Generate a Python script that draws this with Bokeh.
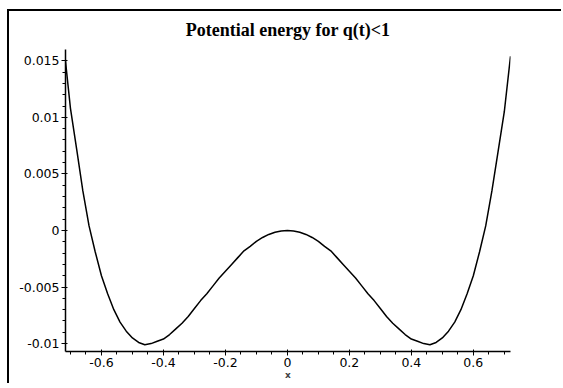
from bokeh.plotting import figure
from bokeh.models import FixedTicker, Range1d
from bokeh.embed import file_html
from bokeh.resources import INLINE

# Potential energy curve V(x), sampled every 0.02
xs = [-0.72, -0.70, -0.68, -0.66, -0.64, -0.62, -0.60, -0.58, -0.56, -0.54,
      -0.52, -0.50, -0.48, -0.46, -0.44, -0.42, -0.40, -0.38, -0.36, -0.34,
      -0.32, -0.30, -0.28, -0.26, -0.24, -0.22, -0.20, -0.18, -0.16, -0.14,
      -0.12, -0.10, -0.08, -0.06, -0.04, -0.02, 0.00,
      0.02, 0.04, 0.06, 0.08, 0.10, 0.12, 0.14, 0.16, 0.18, 0.20,
      0.22, 0.24, 0.26, 0.28, 0.30, 0.32, 0.34, 0.36, 0.38, 0.40,
      0.42, 0.44, 0.46, 0.48, 0.50, 0.52, 0.54, 0.56, 0.58, 0.60,
      0.62, 0.64, 0.66, 0.68, 0.70, 0.72]
energy = [0.0160, 0.0108, 0.0072, 0.0035, 0.0004, -0.0019, -0.0040, -0.0056, -0.0070, -0.0081,
          -0.0089, -0.0095, -0.0099, -0.0101, -0.0100, -0.0098, -0.0096, -0.0092, -0.0087, -0.0082,
          -0.0076, -0.0069, -0.0062, -0.0056, -0.0049, -0.0042, -0.0036, -0.0030, -0.0024, -0.0018,
          -0.0014, -0.00096, -0.00062, -0.00035, -0.00016, -0.00004, 0.0,
          -0.00004, -0.00016, -0.00035, -0.00062, -0.00096, -0.0014, -0.0018, -0.0024, -0.0030, -0.0036,
          -0.0042, -0.0049, -0.0056, -0.0062, -0.0069, -0.0076, -0.0082, -0.0087, -0.0092, -0.0096,
          -0.0098, -0.0100, -0.0101, -0.0099, -0.0095, -0.0089, -0.0081, -0.0070, -0.0056, -0.0040,
          -0.0019, 0.0004, 0.0035, 0.0070, 0.0105, 0.0154]

x_ticks = [-0.6, -0.4, -0.2, 0.0, 0.2, 0.4, 0.6]
x_tick_labels = ["-0.6", "-0.4", "-0.2", "0", "0.2", "0.4", "0.6"]
y_ticks = [-0.01, -0.005, 0.0, 0.005, 0.01, 0.015]
y_tick_labels = ["-0.01", "-0.005", "0", "0.005", "0.01", "0.015"]
title_text = "Potential energy for q(t)<1"

p = figure(width=554, height=374, output_backend="svg", toolbar_location=None,
           x_range=Range1d(-0.716, 0.72), y_range=Range1d(-0.0107, 0.0160),
           min_border_left=56, min_border_right=53, min_border_top=38,
           min_border_bottom=34)
p.margin = (11, 0, 0, 9)
# frame rule along the top and left edges of the page (shadow takes no layout space)
p.styles = {"box-shadow": "-2px -2px 0 0 #000"}

p.title.text = title_text
p.title.align = "center"
p.title.vertical_align = "top"
p.title.standoff = 15
p.title.text_color = "black"
p.title.text_font = "Liberation Serif"
p.title.text_font_size = "18px"
p.title.text_font_style = "bold"

p.line(xs, energy, line_color="black", line_width=1.5)

p.grid.visible = False
p.outline_line_color = None
p.background_fill_color = "white"
p.border_fill_color = "white"

minor_x = [round(-0.7 + 0.05 * i, 3) for i in range(29)]
minor_y = [round(-0.010 + 0.001 * i, 4) for i in range(26)]

for ax, ticks, labels, minor in ((p.xaxis[0], x_ticks, x_tick_labels, minor_x),
                                 (p.yaxis[0], y_ticks, y_tick_labels, minor_y)):
    ax.ticker = FixedTicker(ticks=ticks, minor_ticks=minor)
    ax.major_label_overrides = {t: l for t, l in zip(ticks, labels)}
    ax.major_label_text_font = "DejaVu Sans"
    ax.major_label_text_font_size = "12.5px"
    ax.major_label_text_color = "black"
    ax.axis_line_color = "black"
    ax.axis_line_width = 1.5
    ax.major_tick_line_color = "black"
    ax.major_tick_out = 4
    ax.major_tick_in = 2
    ax.minor_tick_line_color = "black"
    ax.minor_tick_out = 3
    ax.minor_tick_in = 0
    ax.major_label_standoff = 2

p.xaxis.axis_label = "x"
p.xaxis.axis_label_text_font = "DejaVu Sans"
p.xaxis.axis_label_text_font_size = "9px"
p.xaxis.axis_label_text_font_style = "bold"
p.xaxis.axis_label_standoff = 0

open("out.html", "w").write(file_html(p, INLINE))
